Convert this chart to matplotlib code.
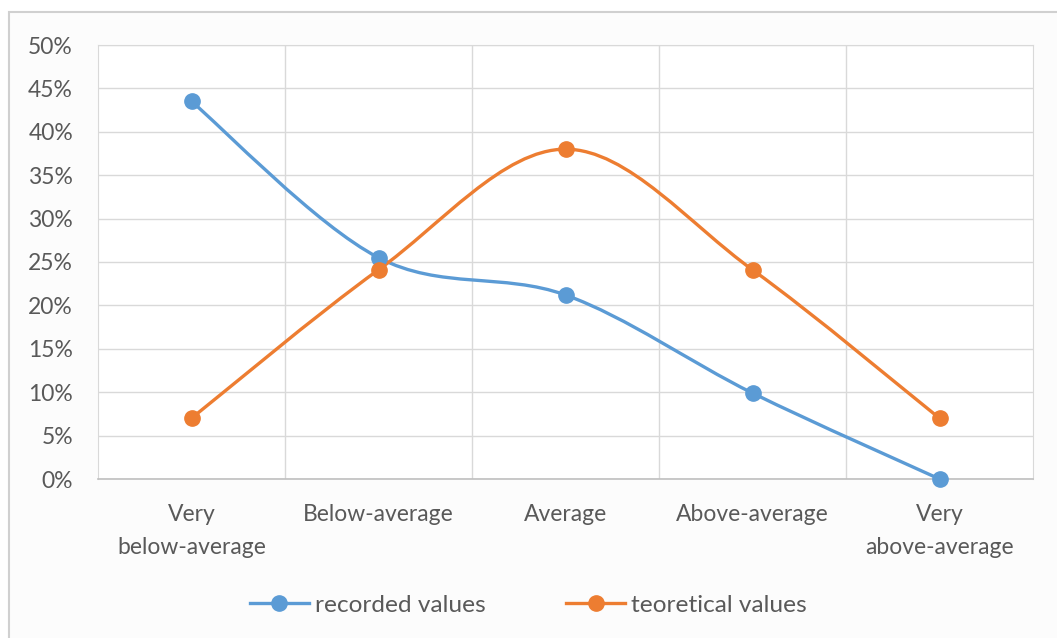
import matplotlib
matplotlib.use("Agg")
import matplotlib.pyplot as plt
from matplotlib.path import Path
from matplotlib.patches import PathPatch, Rectangle
from matplotlib.lines import Line2D
from matplotlib.ticker import PercentFormatter

categories = ["Very\nbelow-average", "Below-average", "Average", "Above-average", "Very\nabove-average"]
recorded = [0.435, 0.255, 0.212, 0.099, 0.0]
theoretical = [0.07, 0.241, 0.38, 0.241, 0.07]

blue = "#5B9BD5"
orange = "#ED7D31"
plt.rcParams["font.family"] = ["Lato", "DejaVu Sans"]


def smooth_path(xs, ys):
    # Excel-like smoothed line: cubic bezier with catmull-rom style control points
    pts = list(zip(xs, ys))
    verts = [pts[0]]
    codes = [Path.MOVETO]
    n = len(pts)
    for i in range(n - 1):
        p0 = pts[i - 1] if i > 0 else pts[i]
        p1 = pts[i]
        p2 = pts[i + 1]
        p3 = pts[i + 2] if i + 2 < n else pts[i + 1]
        c1 = (p1[0] + (p2[0] - p0[0]) / 6, p1[1] + (p2[1] - p0[1]) / 6)
        c2 = (p2[0] - (p3[0] - p1[0]) / 6, p2[1] - (p3[1] - p1[1]) / 6)
        verts += [c1, c2, p2]
        codes += [Path.CURVE4] * 3
    return Path(verts, codes)


fig = plt.figure(figsize=(10.57, 6.38), dpi=100)
fig.patches.append(Rectangle((9 / 1057, -0.05), 1.2, (638 - 12) / 638 + 0.05,
                             transform=fig.transFigure, facecolor="#FCFCFC",
                             edgecolor="#D0D0D0", linewidth=1.5, zorder=-10))
ax = fig.add_axes([98 / 1057, 159 / 638, 935 / 1057, 434 / 638])
ax.set_facecolor("white")

x = list(range(len(categories)))
for vals, col in [(recorded, blue), (theoretical, orange)]:
    ax.add_patch(PathPatch(smooth_path(x, vals), facecolor="none", edgecolor=col,
                           linewidth=2.4, zorder=3, capstyle="round"))
    ax.plot(x, vals, linestyle="none", marker="o", markersize=11, color=col, zorder=4, clip_on=False)

ax.set_xlim(-0.5, 4.5)
ax.set_ylim(0, 0.5)
ax.set_yticks([i * 0.05 for i in range(11)])
ax.yaxis.set_major_formatter(PercentFormatter(1.0, decimals=0))
ax.set_xticks(x)
ax.set_xticklabels(categories, linespacing=1.7)
ax.set_xticks([0.5, 1.5, 2.5, 3.5], minor=True)
ax.grid(True, axis="y", color="#D9D9D9", linewidth=1)
ax.grid(True, axis="x", which="minor", color="#D9D9D9", linewidth=1)
ax.set_axisbelow(True)
for s in ["top", "right", "left"]:
    ax.spines[s].set_color("#D9D9D9")
ax.spines["bottom"].set_color("#BFBFBF")
ax.spines["bottom"].set_linewidth(1.2)
ax.tick_params(axis="both", which="both", length=0, labelsize=16.5, labelcolor="#595959")
ax.tick_params(axis="x", pad=18)
ax.tick_params(axis="y", pad=18)

handles = [Line2D([], [], color=blue, linewidth=2.4, marker="o", markersize=11),
           Line2D([], [], color=orange, linewidth=2.4, marker="o", markersize=11)]
fig.legend(handles, ["recorded values", "teoretical values"], loc="center",
           bbox_to_anchor=(0.5, 33 / 638), ncol=2, frameon=False, fontsize=17.6,
           labelcolor="#595959", handlelength=2.4, handletextpad=0.25, columnspacing=3.3)

fig.savefig("out.png", dpi=100)
